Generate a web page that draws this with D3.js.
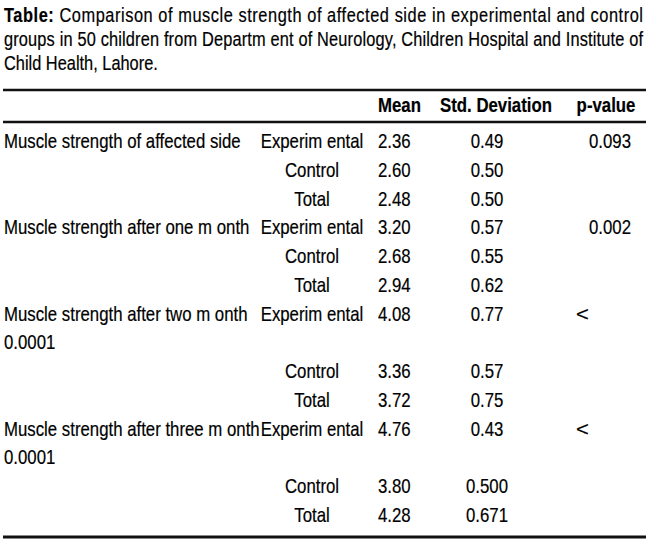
<!DOCTYPE html>
<html>
<head>
<meta charset="utf-8">
<script src="https://cdn.jsdelivr.net/npm/d3@7"></script>
<style>
  body { margin: 0; background: #fff; }
  text { font-family: "Liberation Sans", Arial, sans-serif; fill: #000; stroke: #000; stroke-width: 0.2px; }
  .head { font-weight: bold; }
</style>
</head>
<body>
<div id="chart"></div>
<script>
// table contents
let titleLines = [
    "Comparison of muscle strength of affected side in experimental and control",
    "groups in 50 children from  Departm ent of Neurology, Children Hospital and Institute of",
    "Child Health, Lahore."
]
let headers = ["Mean", "Std. Deviation", "p-value"]
let measures = [
    "Muscle strength of affected side",
    "Muscle strength after one m onth",
    "Muscle strength after two m onth",
    "Muscle strength after three m onth"
]
let groups = ["Experim ental", "Control", "Total"]
let means = [
    ["2.36", "2.60", "2.48"],
    ["3.20", "2.68", "2.94"],
    ["4.08", "3.36", "3.72"],
    ["4.76", "3.80", "4.28"]
]
let stdDevs = [
    ["0.49", "0.50", "0.50"],
    ["0.57", "0.55", "0.62"],
    ["0.77", "0.57", "0.75"],
    ["0.43", "0.500", "0.671"]
]
let pValues = ["0.093", "0.002", "< 0.0001", "< 0.0001"]

let width = 650, height = 547
let sx = 0.84   // condensed look

let svg = d3.select("#chart")
            .append("svg")
            .attr("width", width)
            .attr("height", height)

// put every cell on its own text line
let cells = []
let line = 0
measures.forEach((m, i) => {
    let split = pValues[i].startsWith("<")
    groups.forEach((g, j) => {
        if (j == 0) {
            cells.push({line: line, col: "label", text: m})
            cells.push({line: line, col: "p", text: split ? "<" : pValues[i]})
        }
        cells.push({line: line, col: "group", text: g})
        cells.push({line: line, col: "mean", text: means[i][j]})
        cells.push({line: line, col: "sd", text: stdDevs[i][j]})
        line++
        if (j == 0 && split) {
            cells.push({line: line, col: "label", text: pValues[i].split(" ")[1]})
            line++
        }
    })
})

let y = d3.scaleLinear().domain([0, line - 1]).range([148, 522])

// column anchors
let colX = d3.scaleOrdinal()
             .domain(["label", "group", "mean", "sd", "p", "pnum"])
             .range([4, 312, 378, 487, 576, 610])
let colAnchor = {label: "start", group: "middle", mean: "start", sd: "middle", p: "start"}

function place(x, yy, s) { return `translate(${x},${yy}) scale(${s || sx},1)` }

// title
let tl = [22, 46, 70]
titleLines.forEach((t, i) => {
    let txt = svg.append("text")
        .attr("transform", place(4, tl[i]))
        .style("font-size", "19.5px")
    if (i == 0) txt.append("tspan").attr("class", "head").text("Table: ")
    txt.append("tspan").text(t)
    if (i < 2) txt.attr("textLength", 639 / sx).attr("lengthAdjust", "spacing")
})

// rules
let rules = [{y: 90, w: 2.5}, {y: 122, w: 2.5}, {y: 537, w: 3}]
svg.selectAll(".rule")
    .data(rules)
    .enter()
    .append("line")
    .attr("class", "rule")
    .attr("x1", 3).attr("x2", 646)
    .attr("y1", d => d.y).attr("y2", d => d.y)
    .attr("stroke", "#111")
    .attr("stroke-width", d => d.w)

// header row
let headX = [{t: headers[0], x: 378, a: "start"}, {t: headers[1], x: 496, a: "middle"}, {t: headers[2], x: 606, a: "middle"}]
svg.selectAll(".head-cell")
    .data(headX)
    .enter()
    .append("text")
    .attr("class", "head head-cell")
    .attr("transform", d => place(d.x, 112, 0.84))
    .style("font-size", "20px")
    .style("text-anchor", d => d.a)
    .text(d => d.t)

// body
svg.selectAll(".cell")
    .data(cells)
    .enter()
    .append("text")
    .attr("class", "cell")
    .attr("transform", d => {
        let c = (d.col == "p" && d.text != "<") ? "pnum" : d.col
        return place(colX(c), y(d.line), d.text == "<" ? 1.1 : sx)
    })
    .style("font-size", "20px")
    .style("text-anchor", d => (d.col == "p" && d.text != "<") ? "middle" : colAnchor[d.col])
    .text(d => d.text)
</script>
</body>
</html>
